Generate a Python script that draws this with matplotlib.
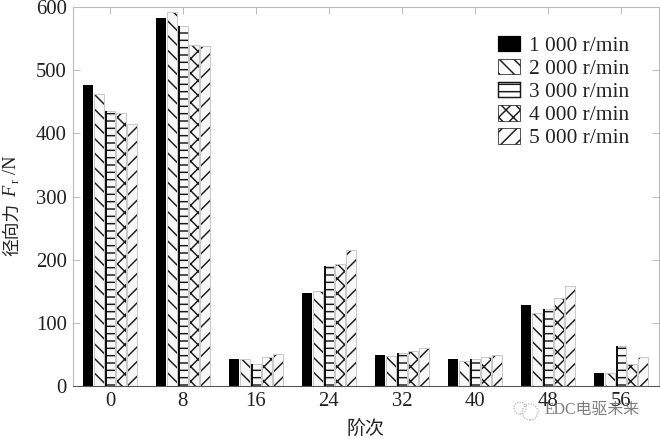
import matplotlib
matplotlib.use("Agg")
import matplotlib.pyplot as plt
from matplotlib.patches import Patch, Ellipse
import numpy as np

orders = ["0", "8", "16", "24", "32", "40", "48", "56"]
speeds = ["1 000 r/min", "2 000 r/min", "3 000 r/min", "4 000 r/min", "5 000 r/min"]
v1000 = [477, 582, 42, 147, 49, 42, 129, 20]
v2000 = [462, 592, 42, 150, 47, 40, 116, 20]
v3000 = [436, 570, 35, 190, 53, 42, 122, 64]
v4000 = [432, 540, 46, 193, 56, 46, 140, 35]
v5000 = [415, 538, 50, 216, 60, 49, 158, 46]
series = [v1000, v2000, v3000, v4000, v5000]
hatches = [None, "\\\\", "--", "xx", "//"]

DPI = 88
W, H = 660, 439
SERIF = "Liberation Serif"
CJK = "Noto Sans CJK SC"
INK = "#222222"
plt.rcParams["font.family"] = [SERIF, CJK]
plt.rcParams["hatch.linewidth"] = 1.2

fig = plt.figure(figsize=(W / DPI, H / DPI), dpi=DPI)
ax = fig.add_axes([73 / W, 1 - 386 / H, (659 - 73) / W, (386 - 7) / H])

x = np.arange(len(orders))
pitch = 0.152
bw = 0.135
GREY = "#c8c8c8"
for i, vals in enumerate(series):
    pos = x + (i - 2) * pitch
    if i == 0:
        ax.bar(pos, vals, bw, color="black", linewidth=0, zorder=2)
    else:
        ax.bar(pos, vals, bw, facecolor="#f8f8f8", edgecolor="#1a1a1a",
               hatch=hatches[i], linewidth=0, zorder=2)
        ax.bar(pos, vals, bw, fill=False, edgecolor=GREY, linewidth=0.8, zorder=3)
    if i == 2:
        ax.vlines(pos - bw * 0.42, 0, vals, color="black", linewidth=1.5, zorder=4)

ax.set_xlim(-0.505, 7.52)
ax.set_ylim(0, 600)
ax.set_xticks(x)
ax.set_xticklabels(orders)
ax.set_yticks(range(0, 601, 100))
ax.tick_params(axis="both", direction="in", top=True, right=True, length=6, width=0.8,
               color="#bbbbbb", labelsize=17, labelcolor=INK, pad=5)
for name, sp in ax.spines.items():
    sp.set_color("#555555" if name == "bottom" else "#bbbbbb")
    sp.set_linewidth(0.9)

fig.text(366 / W, 1 - 428 / H, "阶次", ha="center", va="center", fontsize=15.5,
         color=INK, family=CJK)

# y axis label: mixed CJK, italic and subscript pieces
fig.text(12 / W, 1 - 229 / H, "径向力", rotation=90, ha="center", va="center",
         fontsize=14.5, color=INK, family=CJK)
fig.text(12 / W, 1 - 191 / H, "F", rotation=90, ha="center", va="center",
         fontsize=15, color=INK, family=SERIF, style="italic")
fig.text(16 / W, 1 - 181 / H, "r", rotation=90, ha="center", va="center",
         fontsize=10, color=INK, family=SERIF)
fig.text(12 / W, 1 - 165 / H, "/N", rotation=90, ha="center", va="center",
         fontsize=15, color=INK, family=SERIF)

handles = [Patch(facecolor="black", edgecolor="black")]
for i in range(1, 5):
    lw = 1.2 if i == 2 else 0.6
    handles.append(Patch(facecolor="white", edgecolor="#1a1a1a", hatch=hatches[i], linewidth=lw))
ax.legend(handles, speeds, loc="upper left", bbox_to_anchor=((498 - 73) / 586, (386 - 36) / 379),
          frameon=False, fontsize=17.5, labelcolor=INK, handlelength=1.02, handleheight=0.72,
          labelspacing=0.14, handletextpad=0.42, borderpad=0, borderaxespad=0)

# watermark
fig.text(592 / W, 1 - 410 / H, "EDC电驱未来", ha="center", va="center", fontsize=13,
         color="#666666", alpha=0.85, zorder=10)
for cx, cy, r in [(520, 408, 6), (530, 412, 8)]:
    fig.add_artist(Ellipse((cx / W, 1 - cy / H), 2 * r / W, 2 * r / H, transform=fig.transFigure,
                           fill=False, edgecolor="#888888", linewidth=0.8, linestyle=":", zorder=10))

fig.savefig("out.png", dpi=DPI)
